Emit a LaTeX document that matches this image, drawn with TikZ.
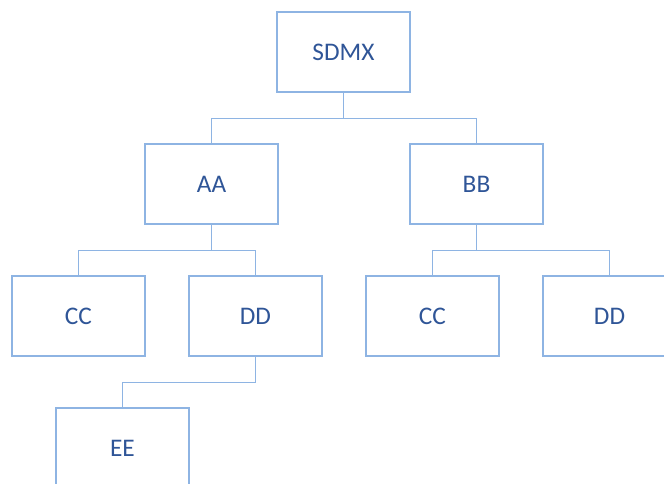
\documentclass[tikz,border=0pt]{standalone}
\usepackage{fontspec}
\setmainfont{Carlito}
\usepackage{tikz}
\definecolor{boxline}{HTML}{8EB4E3}
\definecolor{boxtext}{HTML}{2F5597}

\begin{document}
\begin{tikzpicture}[x=0.75pt,y=-0.75pt,
  item/.style={shape=rectangle,draw=boxline,line width=1.2pt,minimum width=99.75pt,minimum height=60pt,text=boxtext,font=\fontsize{19}{23}\selectfont},
  link/.style={draw=boxline,line width=0.8pt}]
\useasboundingbox (0,0) rectangle (664,483);
\clip (0,0) rectangle (664,483);
\path (343.5,52) node (sdmx) [item] {SDMX};
\path (211.5,184) node (aa) [item] {AA};
\path (476.5,184) node (bb) [item] {BB};
\path (78.5,316) node (cca) [item] {CC};
\path (255.5,316) node (dda) [item] {DD};
\path (432.5,316) node (ccb) [item] {CC};
\path (609.5,316) node (ddb) [item] {DD};
\path (122.5,448) node (ee) [item] {EE};

\draw [link] (sdmx.south) -- ++(0,26) -| (aa.north);
\draw [link] (sdmx.south) -- ++(0,26) -| (bb.north);
\draw [link] (aa.south) -- ++(0,26) -| (cca.north);
\draw [link] (aa.south) -- ++(0,26) -| (dda.north);
\draw [link] (bb.south) -- ++(0,26) -| (ccb.north);
\draw [link] (bb.south) -- ++(0,26) -| (ddb.north);
\draw [link] (dda.south) -- ++(0,26) -| (ee.north);
\end{tikzpicture}
\end{document}
